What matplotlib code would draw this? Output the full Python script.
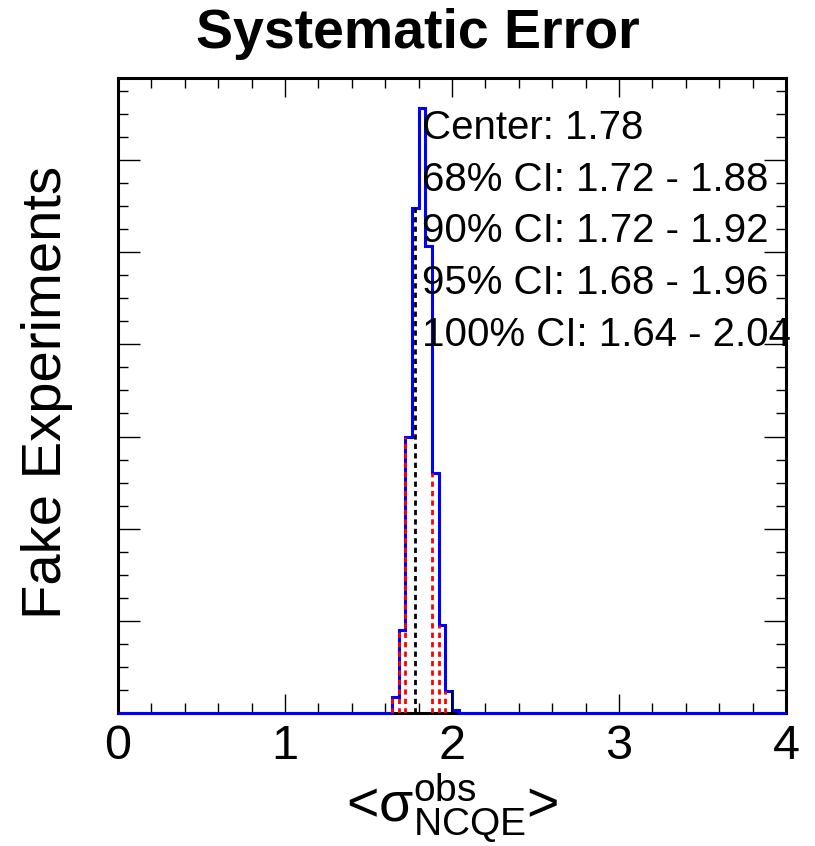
import numpy as np
import matplotlib
matplotlib.use("Agg")
import matplotlib.pyplot as plt
from matplotlib.ticker import MultipleLocator

plt.rcParams['font.family'] = ['Liberation Sans', 'DejaVu Sans']
plt.rcParams['mathtext.fontset'] = 'custom'
plt.rcParams['mathtext.rm'] = 'Liberation Sans'
plt.rcParams['mathtext.it'] = 'Liberation Sans:italic'
plt.rcParams['mathtext.bf'] = 'Liberation Sans:bold'

# ---- data ----
x_min, x_max, n_bins = 0.0, 4.0, 100
filled_bin_lows = [1.64, 1.68, 1.72, 1.76, 1.80, 1.84, 1.88, 1.92, 1.96, 2.00]
filled_counts = [68, 359, 1199, 2194, 2625, 2026, 1042, 380, 94, 13]
center_value = 1.78
ci_lower = [1.72, 1.68, 1.64]
ci_upper = [1.88, 1.92, 1.96]
limit_100_upper_line = 2.00
labels = ["Center: 1.78",
          "68% CI: 1.72 - 1.88",
          "90% CI: 1.72 - 1.92",
          "95% CI: 1.68 - 1.96",
          "100% CI: 1.64 - 2.04"]
title = "Systematic Error"
ylabel = "Fake Experiments"

edges = np.linspace(x_min, x_max, n_bins + 1)
bw = (x_max - x_min) / n_bins
counts = np.zeros(n_bins)
for lo, c in zip(filled_bin_lows, filled_counts):
    counts[int(round((lo - x_min) / bw))] = c

def content_at(x):
    i = int(round((x - x_min) / bw))
    return counts[i]

fig = plt.figure(figsize=(8.15, 8.46), dpi=100)
ax = fig.add_axes([118/815, 1-713/846, (786-118)/815, (713-78)/846])

ax.stairs(counts, edges, color=(0, 0, 1), lw=2.2, zorder=3, clip_on=False)

dash = (1.9, 1.5)
for xv in ci_lower + ci_upper:
    ax.plot([xv, xv], [0, content_at(xv)], color='red', lw=2.0,
            linestyle=(0, dash), zorder=4)
ax.plot([center_value, center_value], [0, content_at(1.76)], color='black',
        lw=2.0, linestyle=(0, dash), zorder=4)
ax.plot([limit_100_upper_line, limit_100_upper_line],
        [0, content_at(1.96)], color='black', lw=1.3, zorder=4)

ax.set_xlim(x_min, x_max)
ax.set_ylim(0, max(filled_counts) * 1.05)

ax.xaxis.set_major_locator(MultipleLocator(1))
ax.xaxis.set_minor_locator(MultipleLocator(0.2))
ax.yaxis.set_major_locator(MultipleLocator(400))
ax.yaxis.set_minor_locator(MultipleLocator(100))
ax.tick_params(which='both', direction='in', top=True, right=True, width=1.0,
               color='black')
ax.tick_params(which='major', length=14, labelsize=35, pad=8)
ax.tick_params(which='minor', length=7)
ax.tick_params(axis='y', which='major', length=16)
ax.tick_params(axis='y', labelleft=False)
for s in ax.spines.values():
    s.set_linewidth(2.2)

ys = [128, 180, 231, 283, 335]
for t, yp in zip(labels, ys):
    ax.text((422-118)/668, (713-yp)/635, t, transform=ax.transAxes,
            fontsize=29, ha='left', va='center', zorder=5)

fig.text(418/815, 1-34/846, title, fontsize=40, fontweight='bold',
         ha='center', va='center')
fig.text(47/815, 1-392/846, ylabel, fontsize=40.5, rotation=90,
         ha='center', va='center')
fig.text(452/815, 1-808/846, r'<$\mathregular{\sigma^{obs}_{NCQE}}$>',
         fontsize=40, ha='center', va='center')

fig.savefig("out.png", dpi=100)
